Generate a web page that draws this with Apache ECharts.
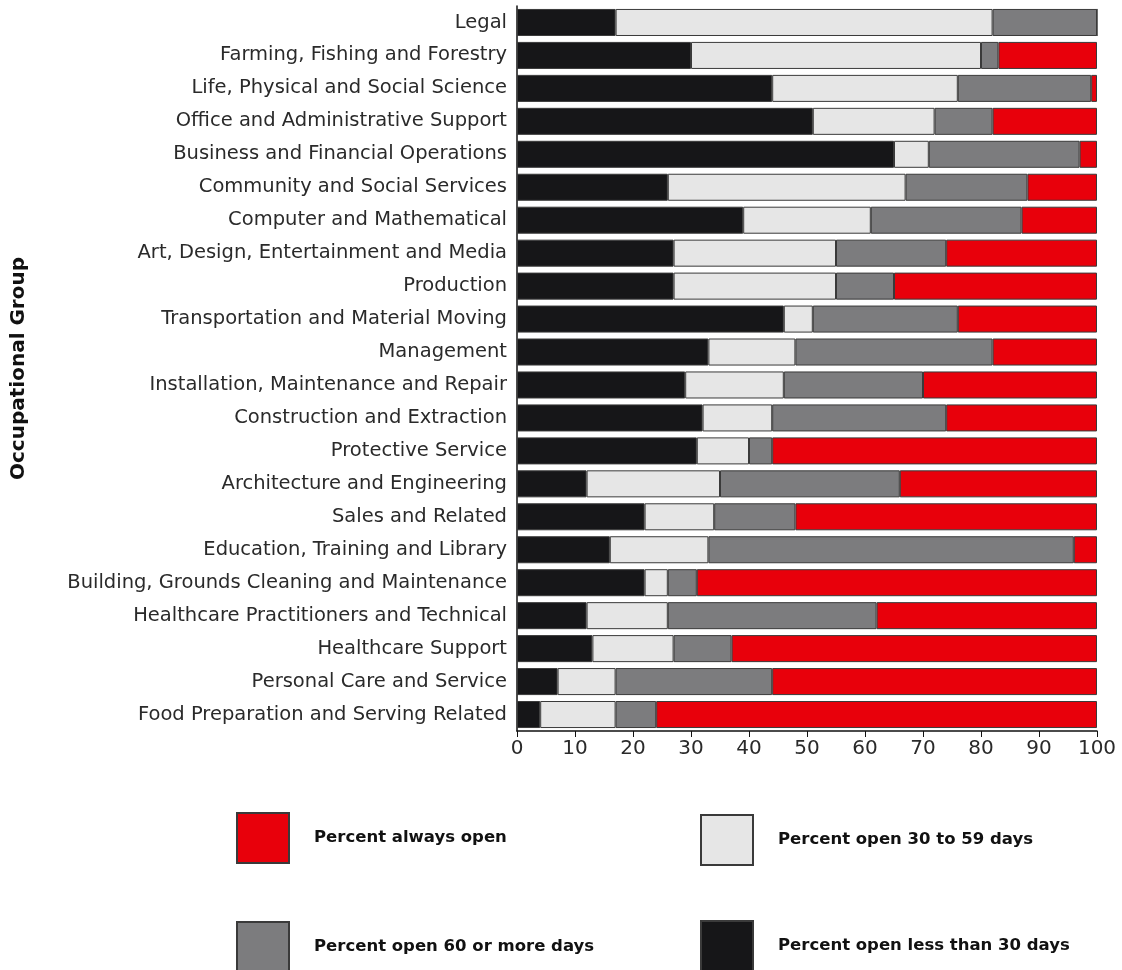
<!DOCTYPE html>
<html>
<head>
<meta charset="utf-8">
<script src="https://cdn.jsdelivr.net/npm/echarts@6/dist/echarts.min.js"></script>
<style>
  html, body { margin: 0; padding: 0; background: #fff; }
  #chart { width: 1122px; height: 970px; }
</style>
</head>
<body>
<div id="chart"></div>
<script>
// occupational groups, top to bottom
var groups = [
  'Legal',
  'Farming, Fishing and Forestry',
  'Life, Physical and Social Science',
  'Office and Administrative Support',
  'Business and Financial Operations',
  'Community and Social Services',
  'Computer and Mathematical',
  'Art, Design, Entertainment and Media',
  'Production',
  'Transportation and Material Moving',
  'Management',
  'Installation, Maintenance and Repair',
  'Construction and Extraction',
  'Protective Service',
  'Architecture and Engineering',
  'Sales and Related',
  'Education, Training and Library',
  'Building, Grounds Cleaning and Maintenance',
  'Healthcare Practitioners and Technical',
  'Healthcare Support',
  'Personal Care and Service',
  'Food Preparation and Serving Related'
]

var lessThan30 = [17, 30, 44, 51, 65, 26, 39, 27, 27, 46, 33, 29, 32, 31, 12, 22, 16, 22, 12, 13, 7, 4]
var open30to59 = [65, 50, 32, 21, 6, 41, 22, 28, 28, 5, 15, 17, 12, 9, 23, 12, 17, 4, 14, 14, 10, 13]
var open60plus = [18, 3, 23, 10, 26, 21, 26, 19, 10, 25, 34, 24, 30, 4, 31, 14, 63, 5, 36, 10, 27, 7]
var alwaysOpen = [0, 17, 1, 18, 3, 12, 13, 26, 35, 24, 18, 30, 26, 56, 34, 52, 4, 69, 38, 63, 56, 76]

var xTicks = [0, 10, 20, 30, 40, 50, 60, 70, 80, 90, 100]

var FONT = 'DejaVu Sans'

function bar (name, data, color) {
  return {
    name: name,
    type: 'bar',
    stack: 'all',
    data: data,
    barCategoryGap: '18%',
    itemStyle: {
      color: color,
      borderColor: '#3a3a3a',
      borderWidth: 1
    }
  }
}

function legendBox (name, left, top) {
  return {
    data: [name],
    left: left,
    top: top,
    padding: 0,
    icon: 'rect',
    itemWidth: 52,
    itemHeight: 50,
    selectedMode: false,
    textStyle: {
      fontFamily: FONT,
      fontWeight: 'bold',
      fontSize: 16.5,
      color: '#111',
      padding: [0, 0, 0, 20]
    }
  }
}

var chart = echarts.init(document.getElementById('chart'))
chart.setOption({
  animation: false,
  backgroundColor: '#fff',
  grid: {
    left: 517,
    right: 25,
    top: 6,
    bottom: 239,
    containLabel: false
  },
  xAxis: {
    type: 'value',
    min: 0,
    max: 100,
    interval: 10,
    axisLine: { show: true, lineStyle: { color: '#111', width: 1.5 } },
    axisTick: { show: true, length: 6, lineStyle: { color: '#111' } },
    splitLine: { show: false },
    axisLabel: {
      fontFamily: FONT,
      fontSize: 20,
      color: '#2a2a2a',
      margin: 8,
      formatter: function (v) { return xTicks.indexOf(v) >= 0 ? String(v) : '' }
    }
  },
  yAxis: {
    type: 'category',
    data: groups,
    inverse: true,
    name: 'Occupational Group',
    nameLocation: 'middle',
    nameGap: 488,
    nameTextStyle: {
      fontFamily: FONT,
      fontWeight: 'bold',
      fontSize: 20,
      color: '#111'
    },
    axisLine: { show: true, lineStyle: { color: '#111', width: 1.5 } },
    axisTick: { show: false },
    axisLabel: {
      fontFamily: FONT,
      fontSize: 19.5,
      color: '#2a2a2a',
      margin: 10
    }
  },
  legend: [
    legendBox('Percent always open', 236, 812),
    legendBox('Percent open 30 to 59 days', 700, 814),
    legendBox('Percent open 60 or more days', 236, 921),
    legendBox('Percent open less than 30 days', 700, 920)
  ],
  series: [
    bar('Percent open less than 30 days', lessThan30, '#161618'),
    bar('Percent open 30 to 59 days', open30to59, '#e6e6e6'),
    bar('Percent open 60 or more days', open60plus, '#7c7c7e'),
    bar('Percent always open', alwaysOpen, '#e8000b')
  ]
})
</script>
</body>
</html>
